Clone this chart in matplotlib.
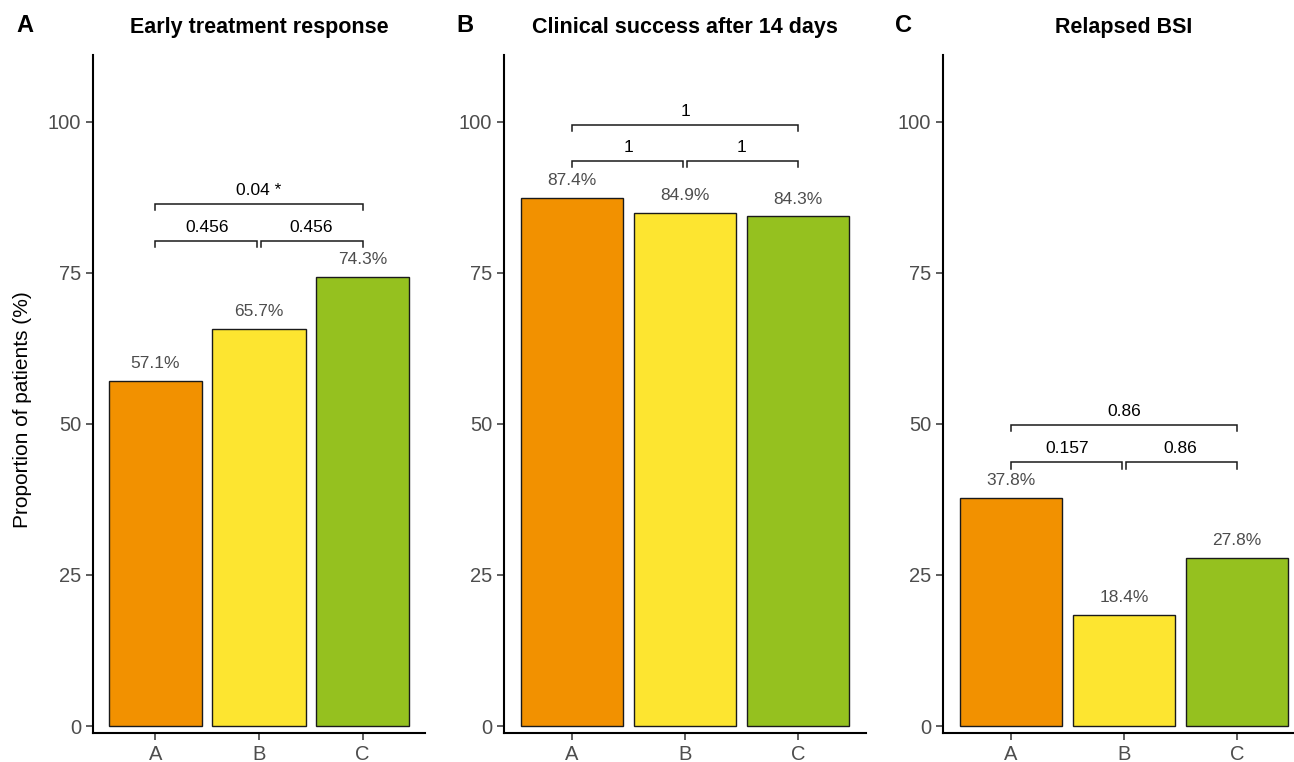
import matplotlib
matplotlib.use("Agg")
import matplotlib.pyplot as plt

plt.rcParams['font.family'] = ['Liberation Sans', 'DejaVu Sans']

W, H = 1294, 762

groups = ["A", "B", "C"]
colors = ["#F29100", "#FDE530", "#95C11F"]

titles = ["Early treatment response", "Clinical success after 14 days", "Relapsed BSI"]
panel_letters = ["A", "B", "C"]
values = [
    [57.1, 65.7, 74.3],
    [87.4, 84.9, 84.3],
    [37.8, 18.4, 27.8],
]
# p-values: (A vs B, B vs C, A vs C)
pvals = [
    ["0.456", "0.456", "0.04 *"],
    ["1", "1", "1"],
    ["0.157", "0.86", "0.86"],
]
bracket_y = [
    [80.3, 86.3],
    [93.4, 99.4],
    [43.6, 49.8],
]
yticks = [0, 25, 50, 75, 100]

# axes positions in pixels: (left, right)
xpix = [(93, 425), (504, 866), (943, 1305)]
letter_x = [16, 456, 895]
ytop, ybot = 55, 733
ylim = (-1.15, 111)
xlim = (0.4, 3.6)

fig = plt.figure(figsize=(W / 100, H / 100), dpi=100)

for i in range(3):
    l, r = xpix[i]
    ax = fig.add_axes([l / W, 1 - ybot / H, (r - l) / W, (ybot - ytop) / H])
    x = [1, 2, 3]
    ax.bar(x, values[i], width=0.9, color=colors, edgecolor="#1a1a1a", linewidth=1.0, zorder=2)
    for xi, v in zip(x, values[i]):
        ax.text(xi, v + 1.6, f"{v:.1f}%", ha="center", va="bottom", fontsize=12.5, color="#4D4D4D")
    # brackets
    lo, hi = bracket_y[i]
    tick = 1.0
    bc = "#1a1a1a"
    lw = 1.1
    # A-B
    ax.plot([1, 1, 1.985, 1.985], [lo - tick, lo, lo, lo - tick], color=bc, lw=lw, solid_joinstyle="miter")
    ax.text(1.5, lo + 1.0, pvals[i][0], ha="center", va="bottom", fontsize=12.5, color="black")
    # B-C
    ax.plot([2.015, 2.015, 3, 3], [lo - tick, lo, lo, lo - tick], color=bc, lw=lw, solid_joinstyle="miter")
    ax.text(2.5, lo + 1.0, pvals[i][1], ha="center", va="bottom", fontsize=12.5, color="black")
    # A-C
    ax.plot([1, 1, 3, 3], [hi - tick, hi, hi, hi - tick], color=bc, lw=lw, solid_joinstyle="miter")
    ax.text(2, hi + 1.0, pvals[i][2], ha="center", va="bottom", fontsize=12.5, color="black")

    ax.set_xlim(*xlim)
    ax.set_ylim(*ylim)
    ax.set_xticks(x)
    ax.set_xticklabels(groups)
    ax.set_yticks(yticks)
    ax.set_yticklabels([str(t) for t in yticks])
    ax.tick_params(axis="both", labelsize=14.5, labelcolor="#4D4D4D", color="#333333",
                   length=5, width=1.1, pad=3.5)
    for s in ["top", "right"]:
        ax.spines[s].set_visible(False)
    for s in ["left", "bottom"]:
        ax.spines[s].set_linewidth(1.5)
        ax.spines[s].set_color("black")
    ax.set_facecolor("white")
    cx = (l + r) / 2
    fig.text(cx / W, 1 - 27 / H, titles[i], ha="center", va="center", fontsize=15.5, fontweight="bold")
    fig.text(letter_x[i] / W, 1 - 25 / H, panel_letters[i], ha="left", va="center",
             fontsize=17, fontweight="bold")

fig.text(23 / W, 1 - 410 / H, "Proportion of patients (%)", rotation=90, ha="center", va="center",
         fontsize=15, color="black")

fig.savefig("out.png", dpi=100, facecolor="white")
